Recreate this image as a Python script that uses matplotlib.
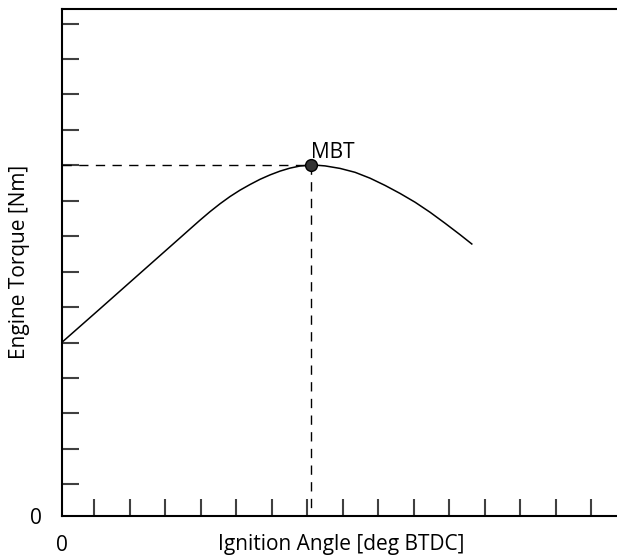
import matplotlib
matplotlib.use("Agg")
import matplotlib.pyplot as plt

plt.rcParams['font.family'] = ['Open Sans', 'DejaVu Sans']

# Data (schematic units: one tick spacing = 1)
angle = [-0.918, 0.161, 1.287, 2.414, 2.696, 2.977, 3.259, 3.541, 3.823, 4.104,
         4.386, 4.668, 4.949, 5.231, 5.513, 5.794, 6.104, 6.301, 6.499,
         6.921, 7.344, 7.766, 8.189, 8.611, 9.034, 9.456, 9.879, 10.301, 10.631]
torque = [4.000, 4.952, 5.952, 6.952, 7.203, 7.452, 7.692, 7.915, 8.119, 8.299,
          8.458, 8.605, 8.729, 8.836, 8.921, 8.980, 9.006, 8.999, 8.983,
          8.912, 8.802, 8.636, 8.432, 8.206, 7.958, 7.675, 7.364, 7.042, 6.780]
mbt_angle = 6.104
mbt_torque = 9.006
x_ticks = list(range(0, 15))
y_ticks = list(range(0, 14))
x_lim = (-0.918, 14.72)
y_lim = (-0.895, 13.4)

fig = plt.figure(figsize=(6.17, 5.56), dpi=100)
ax = fig.add_axes([0.1, 0.0719, 0.9, 0.9113])
ax.set_xlim(*x_lim)
ax.set_ylim(*y_lim)

ax.plot(angle, torque, color='black', lw=1.1, solid_joinstyle='round', zorder=3)
ax.plot([x_lim[0], mbt_angle], [mbt_torque, mbt_torque], color='black', lw=1.0,
        dashes=(6.7, 5.3), zorder=2)
ax.plot([mbt_angle, mbt_angle], [mbt_torque, y_lim[0]], color='black', lw=1.0,
        dashes=(6.7, 5.3), zorder=2)
ax.plot([mbt_angle], [mbt_torque], 'o', color='#333333', mec='black', ms=8.5, zorder=4)
ax.text(mbt_angle + 0.01, mbt_torque + 0.21, 'MBT', fontsize=15, ha='left', va='baseline')

ax.set_xticks(x_ticks)
ax.set_yticks(y_ticks)
ax.tick_params(axis='both', direction='in', length=12, width=1.5, color='#404040',
               labelbottom=False, labelleft=False)
for s in ['left', 'bottom', 'top']:
    ax.spines[s].set_linewidth(1.5)
    ax.spines[s].set_color('black')
ax.spines['right'].set_visible(False)

fig.text(0.1, 0.0189, '0', fontsize=15, ha='center', va='center')
fig.text(36.3 / 617, 0.0683, '0', fontsize=15, ha='center', va='center')
fig.text(341.5 / 617, 0.0115, 'Ignition Angle [deg BTDC]', fontsize=15,
         ha='center', va='baseline')
fig.text(20 / 617, 0.528, 'Engine Torque [Nm]', fontsize=15, rotation=90,
         ha='center', va='center')

fig.savefig('out.png', dpi=100)
